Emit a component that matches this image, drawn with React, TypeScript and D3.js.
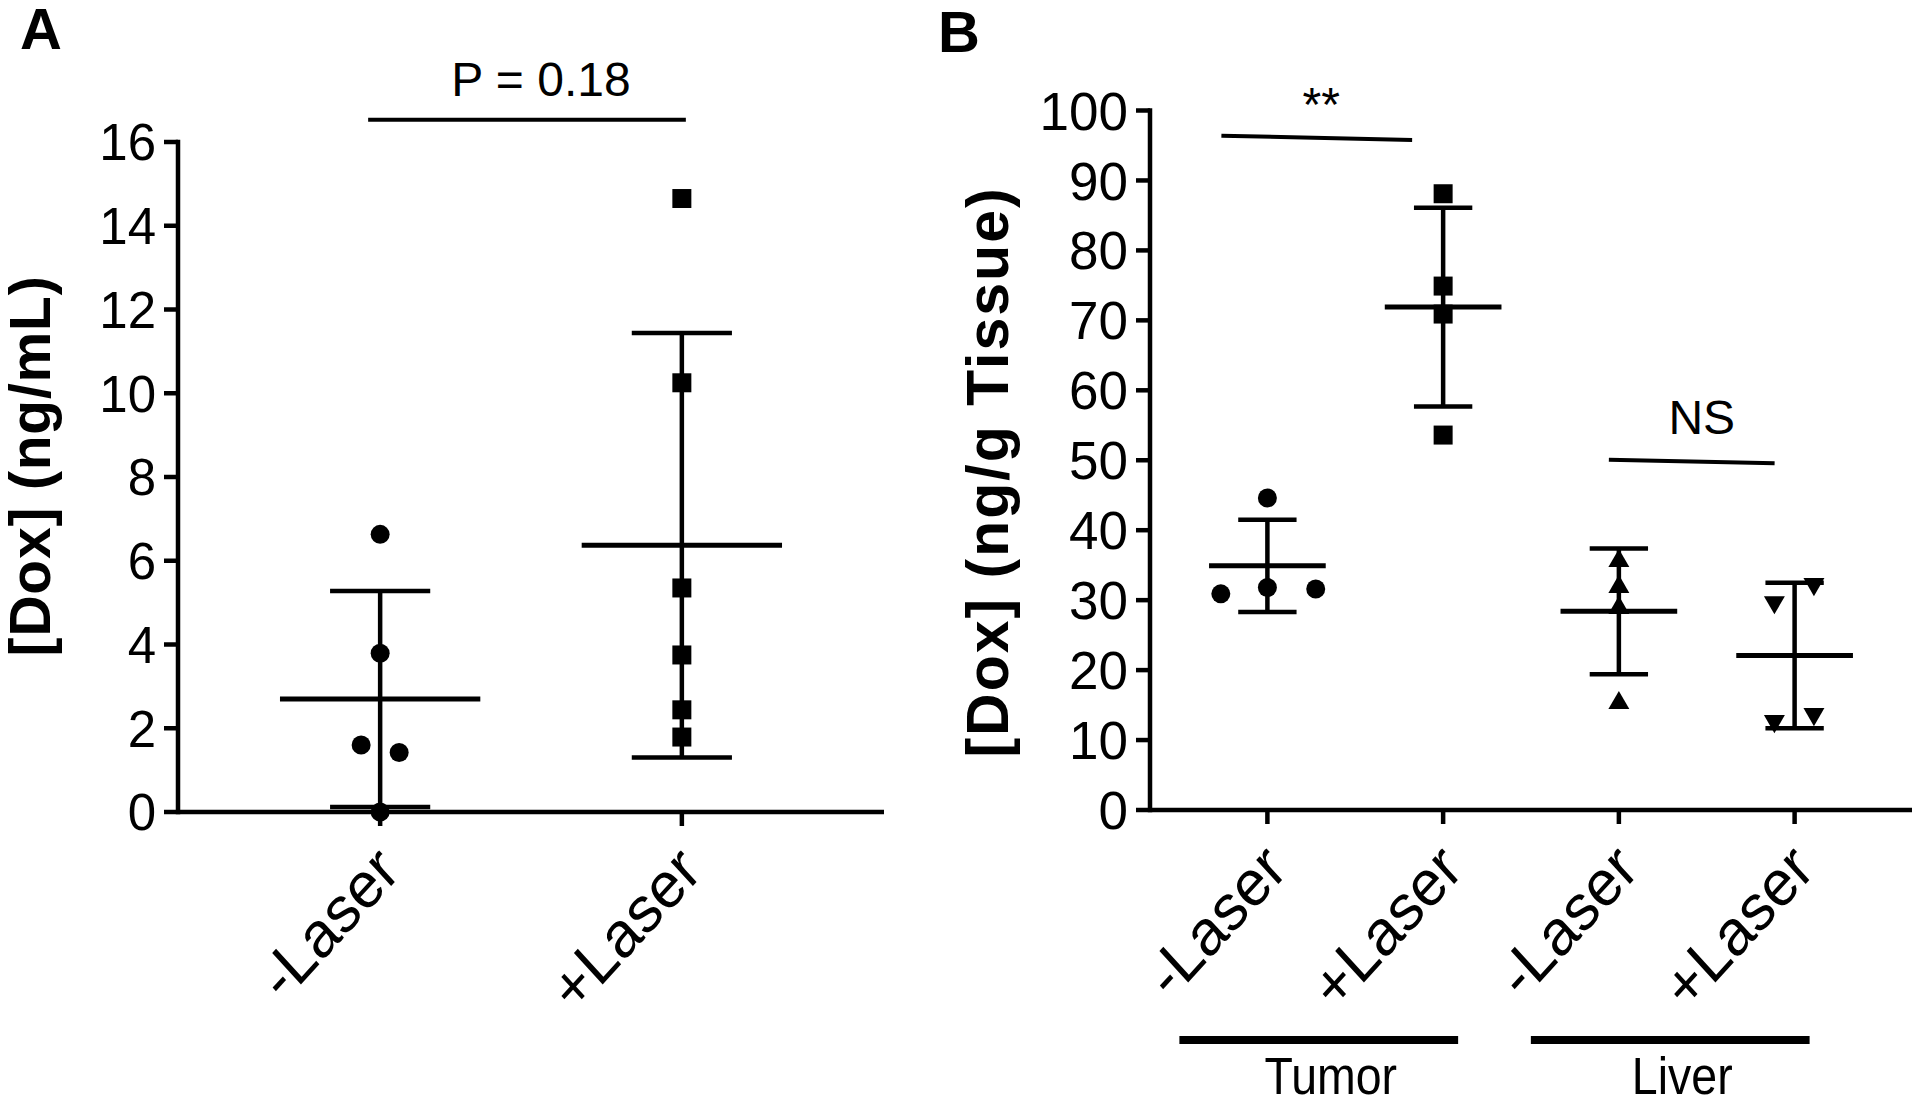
import React from "react";
import * as d3 from "d3";

// ---------- Panel A data ----------
const catsA = ["-Laser", "+Laser"];
const ticksA = [0, 2, 4, 6, 8, 10, 12, 14, 16];
const valsAMinus = [6.63, 3.79, 1.6, 1.42, 0.0];
const valsAPlus = [14.65, 10.25, 5.35, 3.75, 2.44, 1.79];
const jitterAMinus = [0, 0, -0.063, 0.063, 0];
const jitterAPlus = [0, 0, 0, 0, 0, 0];
const meanA = [2.7, 6.37];
const sdA = [2.58, 5.07];

// ---------- Panel B data ----------
const idsB = ["T-", "T+", "L-", "L+"];
const labelsB = ["-Laser", "+Laser", "-Laser", "+Laser"];
const ticksB = [0, 10, 20, 30, 40, 50, 60, 70, 80, 90, 100];
const valsTumorMinus = [44.6, 30.9, 31.8, 31.6];
const valsTumorPlus = [88.1, 74.9, 70.9, 53.6];
const valsLiverMinus = [35.6, 31.9, 28.9, 15.3];
const valsLiverPlus = [32.3, 29.7, 12.7, 13.7];
const jitterTumorMinus = [0, -0.265, 0, 0.275];
const jitterTumorPlus = [0, 0, 0, 0];
const jitterLiverMinus = [0, 0, 0, 0];
const jitterLiverPlus = [0.11, -0.115, -0.115, 0.11];
const meanB = [34.9, 71.9, 28.4, 22.1];
const sdB = [6.6, 14.2, 9.0, 10.4];
const groupNames = ["Tumor", "Liver"];
const groupSpans = [["T-", "T+"], ["L-", "L+"]];

const FONT = "'Liberation Sans', Arial, Helvetica, sans-serif";

const xA = d3.scalePoint<string>().domain(catsA).range([178, 884]).padding(0.67);
const yA = d3.scaleLinear().domain([0, 16]).range([812, 142]);
const xB = d3.scalePoint<string>().domain(idsB).range([1150, 1912]).padding(0.668);
const yB = d3.scaleLinear().domain([0, 100]).range([810, 110.5]);

type Shape = "circle" | "square" | "up" | "down";

function Marker({ x, y, shape }: { x: number; y: number; shape: Shape }) {
  let type: d3.SymbolType = d3.symbolCircle;
  let size = Math.PI * 9.5 * 9.5;
  let rot = 0;
  if (shape === "square") { type = d3.symbolSquare; size = 19 * 19; }
  if (shape === "up") { type = d3.symbolTriangle; size = 190; }
  if (shape === "down") { type = d3.symbolTriangle; size = 190; rot = 180; }
  const d = d3.symbol().type(type).size(size)() as string;
  return <path d={d} transform={`translate(${x},${y}) rotate(${rot})`} fill="#000" />;
}

function Group({ cx, step, yS, vals, jitter, mean, sd, shape, meanHalf, capHalf }: any) {
  return (
    <g>
      {vals.map((v: number, i: number) => (
        <Marker key={i} x={cx + jitter[i] * step} y={yS(v)} shape={shape} />
      ))}
      <line x1={cx} x2={cx} y1={yS(mean + sd)} y2={yS(mean - sd)} stroke="#000" strokeWidth={4.5} />
      <line x1={cx - capHalf} x2={cx + capHalf} y1={yS(mean + sd)} y2={yS(mean + sd)} stroke="#000" strokeWidth={4.5} />
      <line x1={cx - capHalf} x2={cx + capHalf} y1={yS(mean - sd)} y2={yS(mean - sd)} stroke="#000" strokeWidth={4.5} />
      <line x1={cx - meanHalf} x2={cx + meanHalf} y1={yS(mean)} y2={yS(mean)} stroke="#000" strokeWidth={5} />
    </g>
  );
}

function YAxis({ x, yS, ticks, fontSize }: any) {
  const [r0, r1] = yS.range();
  return (
    <g>
      <line x1={x} x2={x} y1={r1 - 2.25} y2={r0 + 2.25} stroke="#000" strokeWidth={4.5} />
      {ticks.map((t: number) => (
        <g key={t}>
          <line x1={x - 14} x2={x} y1={yS(t)} y2={yS(t)} stroke="#000" strokeWidth={4.5} />
          <text x={x - 22} y={yS(t)} dy="0.36em" textAnchor="end" fontFamily={FONT} fontSize={fontSize}>
            {t}
          </text>
        </g>
      ))}
    </g>
  );
}

function XAxis({ xS, y, x0, x1, ids, labels, fontSize }: any) {
  return (
    <g>
      <line x1={x0} x2={x1} y1={y} y2={y} stroke="#000" strokeWidth={4.5} />
      {ids.map((id: string, i: number) => {
        const cx = xS(id);
        return (
          <g key={id}>
            <line x1={cx} x2={cx} y1={y} y2={y + 14} stroke="#000" strokeWidth={4.5} />
            <text
              transform={`translate(${cx + 22},${y + 62}) scale(0.97,1.06) rotate(-45)`}
              textAnchor="end"
              fontFamily={FONT}
              fontSize={fontSize}
            >
              {labels[i]}
            </text>
          </g>
        );
      })}
    </g>
  );
}

export default function App() {
  const stepA = xA.step();
  const stepB = xB.step();
  const aMinus = xA("-Laser")!;
  const aPlus = xA("+Laser")!;
  const bx = (id: string) => xB(id)!;

  return (
    <svg width={1920} height={1100} style={{ position: "absolute", left: 0, top: 0, background: "#fff" }}>
      <rect x={0} y={0} width={1920} height={1100} fill="#fff" />

      {/* Panel letters */}
      <text x={20} y={49} fontFamily={FONT} fontWeight="bold" fontSize={58}>A</text>
      <text x={938} y={52} fontFamily={FONT} fontWeight="bold" fontSize={58}>B</text>

      {/* ---------- Panel A ---------- */}
      <text
        transform={`translate(50,466) rotate(-90)`}
        textAnchor="middle"
        fontFamily={FONT}
        fontWeight="bold"
        fontSize={57}
        letterSpacing={0.8}
      >
        [Dox] (ng/mL)
      </text>
      <YAxis x={178} yS={yA} ticks={ticksA} fontSize={51} />
      <XAxis xS={xA} y={yA(0)} x0={178} x1={884} ids={catsA} labels={catsA} fontSize={61} />
      <Group cx={aMinus} step={stepA} yS={yA} vals={valsAMinus} jitter={jitterAMinus}
        mean={meanA[0]} sd={sdA[0]} shape="circle" meanHalf={stepA * 0.332} capHalf={stepA * 0.166} />
      <Group cx={aPlus} step={stepA} yS={yA} vals={valsAPlus} jitter={jitterAPlus}
        mean={meanA[1]} sd={sdA[1]} shape="square" meanHalf={stepA * 0.332} capHalf={stepA * 0.166} />
      {/* significance */}
      <line x1={aMinus - 12} x2={aPlus + 4} y1={yA(16.53)} y2={yA(16.53)} stroke="#000" strokeWidth={4} />
      <text x={(aMinus + aPlus) / 2 + 10} y={yA(16.53) - 23.5} textAnchor="middle" fontFamily={FONT} fontSize={48}>
        P = 0.18
      </text>

      {/* ---------- Panel B ---------- */}
      <text
        transform={`translate(1008,472) rotate(-90)`}
        textAnchor="middle"
        fontFamily={FONT}
        fontWeight="bold"
        fontSize={59}
        letterSpacing={2}
      >
        [Dox] (ng/g Tissue)
      </text>
      <YAxis x={1150} yS={yB} ticks={ticksB} fontSize={53} />
      <XAxis xS={xB} y={yB(0)} x0={1150} x1={1912} ids={idsB} labels={labelsB} fontSize={61} />
      <Group cx={bx("T-")} step={stepB} yS={yB} vals={valsTumorMinus} jitter={jitterTumorMinus}
        mean={meanB[0]} sd={sdB[0]} shape="circle" meanHalf={stepB * 0.332} capHalf={stepB * 0.166} />
      <Group cx={bx("T+")} step={stepB} yS={yB} vals={valsTumorPlus} jitter={jitterTumorPlus}
        mean={meanB[1]} sd={sdB[1]} shape="square" meanHalf={stepB * 0.332} capHalf={stepB * 0.166} />
      <Group cx={bx("L-")} step={stepB} yS={yB} vals={valsLiverMinus} jitter={jitterLiverMinus}
        mean={meanB[2]} sd={sdB[2]} shape="up" meanHalf={stepB * 0.332} capHalf={stepB * 0.166} />
      <Group cx={bx("L+")} step={stepB} yS={yB} vals={valsLiverPlus} jitter={jitterLiverPlus}
        mean={meanB[3]} sd={sdB[3]} shape="down" meanHalf={stepB * 0.332} capHalf={stepB * 0.166} />

      {/* significance B */}
      <line x1={bx("T-") - 46} x2={bx("T+") - 31} y1={yB(96.4)} y2={yB(95.8)} stroke="#000" strokeWidth={4} />
      <text x={(bx("T-") + bx("T+")) / 2 - 34} y={yB(96.1) - 17} textAnchor="middle" fontFamily={FONT} fontSize={48}>
        **
      </text>
      <line x1={bx("L-") - 10} x2={bx("L+") - 20} y1={yB(50.06)} y2={yB(49.57)} stroke="#000" strokeWidth={4} />
      <text x={(bx("L-") + bx("L+")) / 2 - 5} y={yB(49.8) - 28} textAnchor="middle" fontFamily={FONT} fontSize={48}>
        NS
      </text>

      {/* group bars */}
      {groupNames.map((g, i) => {
        const x0 = bx(groupSpans[i][0]) - 88;
        const x1 = bx(groupSpans[i][1]) + 15;
        const cx = (x0 + x1) / 2 + 12;
        return (
          <g key={g}>
            <line x1={x0} x2={x1} y1={1040} y2={1040} stroke="#000" strokeWidth={8} />
            <text
              transform={`translate(${cx},1094) scale(0.93,1.05)`}
              textAnchor="middle"
              fontFamily={FONT}
              fontSize={50}
            >
              {g}
            </text>
          </g>
        );
      })}
    </svg>
  );
}
